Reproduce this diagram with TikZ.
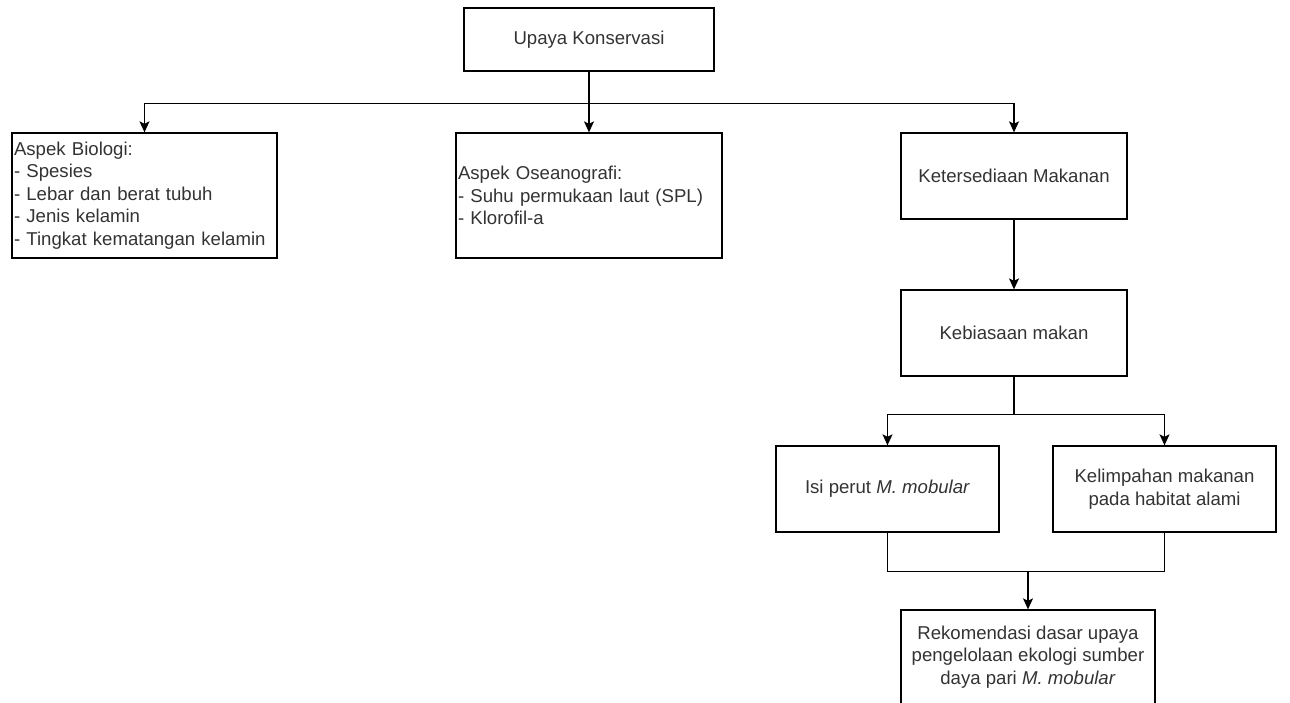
\documentclass[tikz,border=0pt]{standalone}
\usepackage{fontspec}
\setmainfont{Liberation Sans}
\usetikzlibrary{arrows.meta}
\begin{document}
\begin{tikzpicture}[x=1pt,y=-1pt,
  box/.style={draw, line width=1.3pt, inner sep=0pt, font=\fontsize{18.6}{22.5}\selectfont, text=black!80, align=center},
  lbox/.style={box, align=left, inner xsep=2pt},
  arr/.style={-{Stealth[length=11pt,width=10pt,inset=2.5pt]}, line width=1.3pt},
  ln/.style={line width=1.3pt}]
\useasboundingbox (0,0) rectangle (1290,702);
\node[box, minimum width=250, minimum height=63] (up) at (589,39.5) {Upaya Konservasi};
\node[lbox, text width=261, minimum height=125] (bio) at (144.5,195.5) {Aspek Biologi:\\- Spesies\\- Lebar dan berat tubuh\\- Jenis kelamin\\- Tingkat kematangan kelamin};
\node[lbox, text width=262, minimum height=125] (ose) at (589,195.5) {Aspek Oseanografi:\\- Suhu permukaan laut (SPL)\\- Klorofil-a};
\node[box, minimum width=226, minimum height=86] (ket) at (1014,176) {Ketersediaan Makanan};
\node[box, minimum width=226, minimum height=86] (keb) at (1014,333) {Kebiasaan makan};
\node[box, minimum width=223, minimum height=86] (isi) at (887.5,489) {Isi perut \textit{M. mobular}};
\node[box, minimum width=223, minimum height=86] (kel) at (1164.5,489) {Kelimpahan makanan\\pada habitat alami};
\node[box, minimum width=254, minimum height=94] (rek) at (1028,657) {Rekomendasi dasar upaya\\pengelolaan ekologi sumber\\daya pari \textit{M. mobular}};
\draw[arr] (up.south) -- (ose.north);
\draw[arr] (up.south) -- ++(0,32) -| (bio.north);
\draw[arr] (up.south) -- ++(0,32) -| (ket.north);
\draw[arr] (ket.south) -- (keb.north);
\draw[arr] (keb.south) -- ++(0,38) -| (isi.north);
\draw[arr] (keb.south) -- ++(0,38) -| (kel.north);
\draw[ln] (isi.south) -- ++(0,39) -| (kel.south);
\coordinate (j) at (1028,571);
\draw[arr] (j) -- (rek.north);
\end{tikzpicture}
\end{document}
